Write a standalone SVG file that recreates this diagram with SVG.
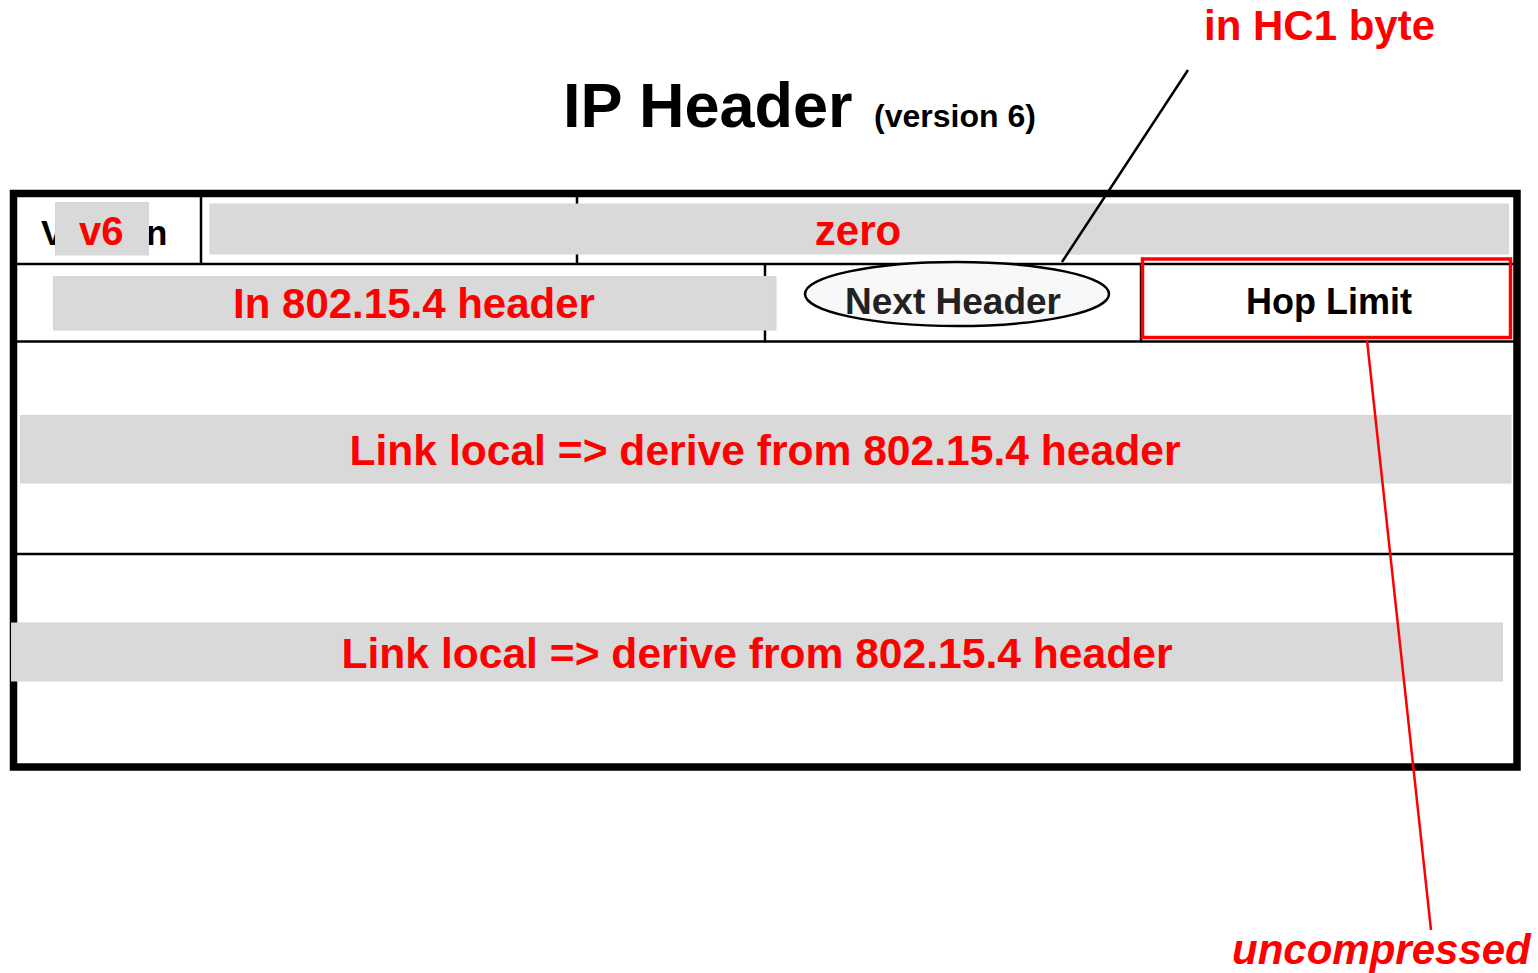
<svg xmlns="http://www.w3.org/2000/svg" width="1538" height="973" viewBox="0 0 1538 973">
  <style>
    .bg { fill: #ffffff; }
    .frame { fill: none; stroke: #000000; stroke-width: 7.5; }
    .rule { stroke: #000000; stroke-width: 2.5; }
    .shade { fill: #d9d9d9; stroke: #d2d6da; stroke-width: 1; }
    .red { fill: #ff0000; font-family: "Liberation Sans", Arial, sans-serif; font-weight: bold; }
    .blk { fill: #000000; font-family: "Liberation Sans", Arial, sans-serif; font-weight: bold; }
    .lbl { font-size: 42px; }
    .wide { font-size: 42.6px; }
  </style>

  <rect class="bg" x="0" y="0" width="1538" height="973"/>

  <!-- title -->
  <g id="title">
    <text class="blk" x="563" y="127" font-size="63">IP Header</text>
    <text class="blk" x="874" y="127" font-size="32">(version 6)</text>
  </g>

  <!-- header table frame and field rules -->
  <g id="table">
    <rect class="frame" x="13.5" y="193.5" width="1503.5" height="573.5"/>
    <line class="rule" x1="13" y1="264" x2="1517" y2="264"/>
    <line class="rule" x1="13" y1="341.5" x2="1517" y2="341.5"/>
    <line class="rule" x1="13" y1="554" x2="1517" y2="554"/>
    <line class="rule" x1="201" y1="193" x2="201" y2="264"/>
    <line class="rule" x1="577" y1="193" x2="577" y2="264"/>
    <line class="rule" x1="765" y1="264" x2="765" y2="341.5"/>
    <line class="rule" x1="1141" y1="264" x2="1141" y2="341.5"/>
  </g>

  <!-- version field: the word sits under the v6 patch -->
  <g id="version">
    <text class="blk" x="41" y="245" font-size="35">Version</text>
    <rect class="shade" x="55.5" y="202.5" width="93" height="52.5"/>
    <text class="red" x="79" y="245" font-size="40">v6</text>
  </g>

  <!-- traffic class / flow label -->
  <g id="zero">
    <rect class="shade" x="210" y="204" width="1298.5" height="50"/>
    <text class="red lbl" x="858" y="245" text-anchor="middle">zero</text>
  </g>

  <!-- payload length -->
  <g id="payload-length">
    <rect class="shade" x="53.5" y="276.5" width="722.5" height="53.5"/>
    <text class="red lbl" x="414" y="318" text-anchor="middle">In 802.15.4 header</text>
  </g>

  <!-- next header -->
  <g id="next-header">
    <ellipse cx="957" cy="294" rx="152" ry="32" fill="#f8f8f8" stroke="#000000" stroke-width="2.5"/>
    <text x="953" y="314" text-anchor="middle" font-family="Liberation Sans, Arial, sans-serif" font-weight="bold" font-size="37" fill="#222222">Next Header</text>
  </g>

  <!-- hop limit -->
  <g id="hop-limit">
    <rect x="1142.5" y="259" width="368" height="78.5" fill="none" stroke="#ff0000" stroke-width="3.5"/>
    <text class="blk" x="1329" y="314" text-anchor="middle" font-size="36">Hop Limit</text>
  </g>

  <!-- source address -->
  <g id="source-address">
    <rect class="shade" x="20.5" y="415.5" width="1490.5" height="67.5"/>
    <text class="red wide" x="765" y="465" text-anchor="middle">Link local =&gt; derive from 802.15.4 header</text>
  </g>

  <!-- destination address -->
  <g id="destination-address">
    <rect class="shade" x="11.5" y="623" width="1491" height="58"/>
    <text class="red wide" x="757" y="668" text-anchor="middle">Link local =&gt; derive from 802.15.4 header</text>
  </g>

  <!-- callout labels -->
  <g id="hc1-note">
    <text class="red lbl" x="1204" y="40">in HC1 byte</text>
  </g>
  <g id="uncompressed-note">
    <text class="red lbl" x="1232" y="964" font-style="italic">uncompressed</text>
  </g>

  <!-- callout connectors -->
  <g id="connectors">
    <line x1="1188" y1="70" x2="1062" y2="262" stroke="#000000" stroke-width="2.5"/>
    <line x1="1367" y1="340" x2="1431" y2="930" stroke="#ff0000" stroke-width="2.5"/>
  </g>
</svg>
